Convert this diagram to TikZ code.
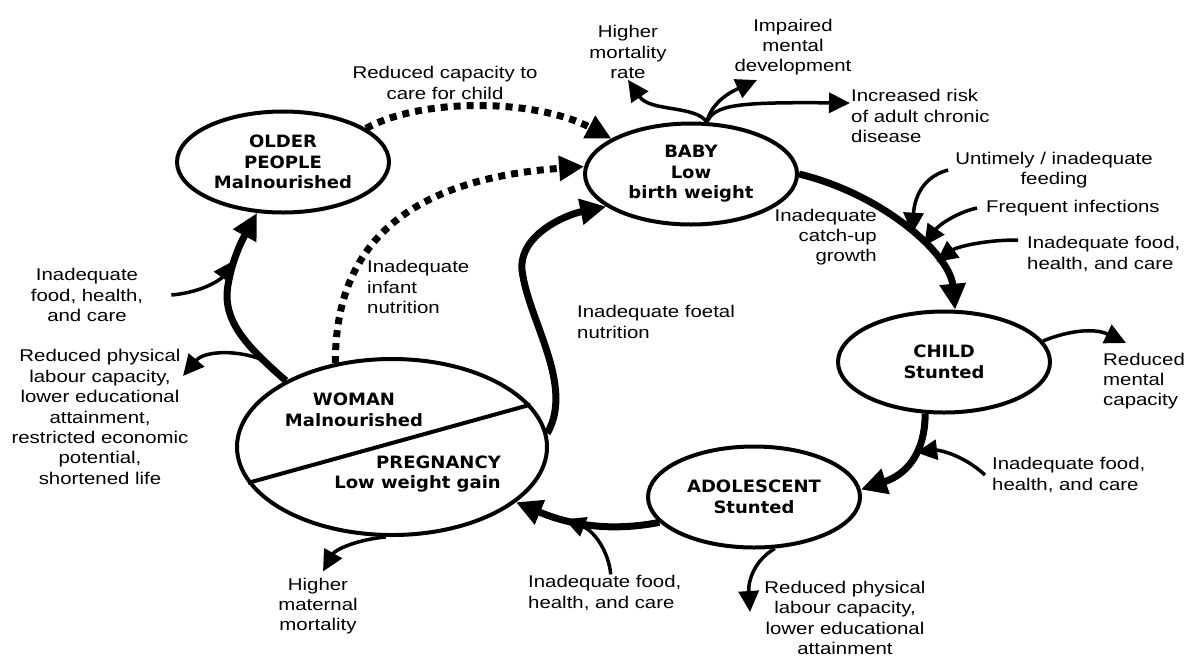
\documentclass[tikz,border=0pt]{standalone}
\usepackage{fontspec}
\setmainfont{Liberation Sans}[FakeStretch=1.2]
\newfontfamily\nodefont{DejaVu Sans}[FakeStretch=1.06]
\usetikzlibrary{arrows.meta,shapes.geometric}
\begin{document}
\begin{tikzpicture}
        [x=1pt, y=-1pt,
        every node/.style={font=\fontsize{17}{20.4}\selectfont, inner sep=1pt},
        inside/.style={align=center, font=\fontsize{17}{20.5}\selectfont\nodefont\bfseries},
        stage/.style={ellipse, draw, line width=4pt, inner sep=0pt, inside,
          minimum width=212pt, minimum height=101pt},
        big/.style={line width=7pt, -{Triangle[length=26pt,width=25pt]}},
        dots/.style={line width=7pt, dash pattern=on 7pt off 6pt, -{Triangle[length=25pt,width=24pt]}},
        thin/.style={line width=3.5pt, -{Triangle[length=21pt,width=20pt]}},
        ]
        \useasboundingbox (0,0) rectangle (1186,657);
        \node[stage] (older) at (283,162) {OLDER\\PEOPLE\\Malnourished};
        \node[stage] (baby) at (691,174) {BABY\\Low\\birth weight};
        \node[stage] (child) at (944,362) {CHILD\\Stunted};
        \node[stage] (adol) at (754,497) {ADOLESCENT\\Stunted};
        \node[stage, minimum width=310pt, minimum height=176pt] (woman) at (392,447) {};
        \draw[line width=4pt] (woman.194) -- (woman.17);
        \node[inside] (womtxt) at (354,410) {WOMAN\\Malnourished};
        \node[inside, align=right, anchor=east] (pregtxt) at (502,474) {PREGNANCY\\Low weight gain};

        \node[align=center] (caretxt) at (445,83) {Reduced capacity to\\care for child};
        \node[align=center] (mortxt) at (628,52) {Higher\\mortality\\rate};
        \node[align=center] (devtxt) at (793,47) {Impaired\\mental\\development};
        \node[align=left, anchor=west] (incrtxt) at (850,116) {Increased risk\\of adult chronic\\disease};
        \node[align=center] (feedtxt) at (1054,170) {Untimely / inadequate\\feeding};
        \node[anchor=west] (inftxt) at (985,208) {Frequent infections};
        \node[align=left, anchor=west] (bfoodtxt) at (1026,254) {Inadequate food,\\health, and care};
        \node[align=right, anchor=east] (catchtxt) at (878,237) {Inadequate\\catch-up\\growth};
        \node[align=left, anchor=west] (redmtxt) at (1102,381) {Reduced\\mental\\capacity};
        \node[align=left, anchor=west] (chfoodtxt) at (991,475) {Inadequate food,\\health, and care};
        \node[align=center] (adredtxt) at (845,618) {Reduced physical\\labour capacity,\\lower educational\\attainment};
        \node[align=left, anchor=west] (lowfoodtxt) at (527,593) {Inadequate food,\\health, and care};
        \node[align=center] (mattxt) at (318,606) {Higher\\maternal\\mortality};
        \node[align=center] (womredtxt) at (100,417) {Reduced physical\\labour capacity,\\lower educational\\attainment,\\restricted economic\\potential,\\shortened life};
        \node[align=center] (olfoodtxt) at (87,295) {Inadequate\\food, health,\\and care};
        \node[align=left, anchor=west] (infanttxt) at (366,287) {Inadequate\\infant\\nutrition};
        \node[align=left, anchor=west] (foetaltxt) at (576,322) {Inadequate foetal\\nutrition};

        \coordinate (devtip) at (757,80);
        \coordinate (redmtip) at (1126,343);
        \coordinate (adredtip) at (750,612);
        \coordinate (wredtip) at (183,376);

        \draw[dots] (older.22) .. controls (420,98) and (534,98) .. (baby.156);
        \draw[dots] (woman.124) .. controls (335,250) and (400,180) .. (baby.176);
        \draw[big] (woman.5) .. controls (575,385) and (528,320) .. (522,270)
          .. controls (519,235) and (565,215) .. (baby.201);
        \draw[big] (baby.0) .. controls (885,195) and (950,255) .. (child.78)
          coordinate[pos=0.53] (f1) coordinate[pos=0.61] (f2) coordinate[pos=0.71] (f3);
        \draw[big] (child.250) .. controls (925,455) and (905,475) .. (adol.4)
          coordinate[pos=0.38] (c1);
        \draw[big] (adol.195) .. controls (610,532) and (570,525) .. (woman.336)
          coordinate[pos=0.68] (a1);
        \draw[big] (woman.148) .. controls (245,345) and (222,320) .. (228,285)
          coordinate[pos=0.2] (w1)
          .. controls (233,255) and (245,235) .. (older.243) coordinate[pos=0.3] (o1);

        \draw[thin] (baby.73) .. controls (695,105) and (650,112) .. (mortxt.south);
        \draw[thin] (baby.73) .. controls (712,100) and (735,90) .. (devtip);
        \draw[thin] (baby.73) .. controls (715,105) and (735,102) .. ([yshift=13pt]incrtxt.west);
        \draw[thin] ([xshift=-6pt]feedtxt.west) .. controls (918,178) and (914,205) .. (f1);
        \draw[thin] ([xshift=-8pt]inftxt.west) .. controls (955,213) and (938,226) .. (f2);
        \draw[thin] ([xshift=-8pt,yshift=14pt]bfoodtxt.west) .. controls (980,240) and (955,248) .. (f3);
        \draw[thin] (child.12) .. controls (1070,330) and (1095,328) .. (redmtip);
        \draw[thin] ([xshift=-6pt]chfoodtxt.west) .. controls (960,452) and (935,450) .. (c1);
        \draw[thin] (adol.292) .. controls (755,560) and (748,580) .. (adredtip);
        \draw[thin] ([xshift=6pt]lowfoodtxt.north) .. controls (608,548) and (592,530) .. (a1);
        \draw[thin] (woman.266) .. controls (355,540) and (335,550) .. ([xshift=5pt,yshift=5pt]mattxt.north);
        \draw[thin] (w1) .. controls (240,350) and (205,350) .. (wredtip);
        \draw[thin] ([xshift=27pt]olfoodtxt.east) .. controls (205,292) and (222,278) .. (o1);
        \end{tikzpicture}
\end{document}
